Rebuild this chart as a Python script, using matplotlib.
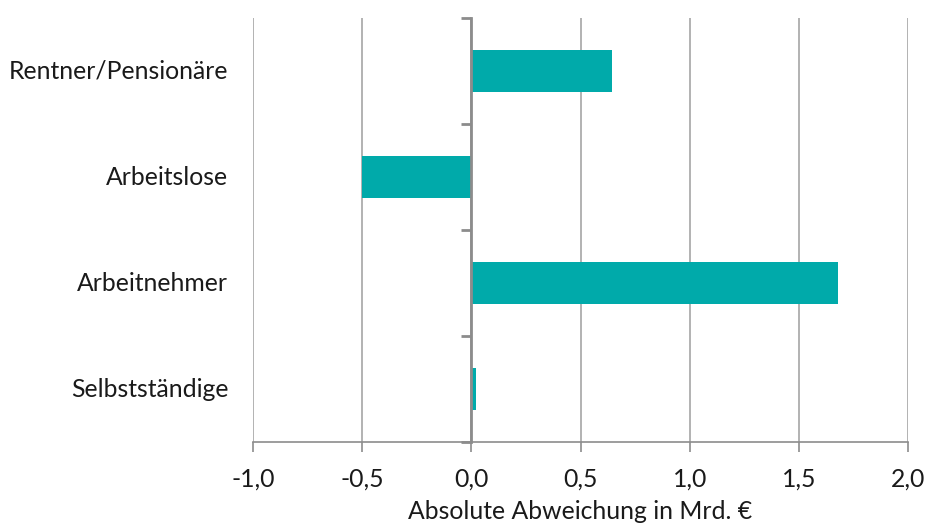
import numpy as np
import matplotlib.pyplot as plt

# Gruppen von unten nach oben, Werte in Mrd. Euro
gruppen = ['Selbstständige', 'Arbeitnehmer', 'Arbeitslose', 'Rentner/Pensionäre']
abweichung = [0.022, 1.68, -0.50, 0.645]
xticks = [-1.0, -0.5, 0.0, 0.5, 1.0, 1.5, 2.0]

plt.rcParams['font.family'] = ['Lato', 'DejaVu Sans']
fs = 17.8

fig = plt.figure(figsize=(9.27, 5.27), dpi=100)
ax = fig.add_axes([0.273, 0.161, 0.7065, 0.805])

pos = np.arange(len(gruppen))
ax.barh(pos, abweichung, height=0.4, color='#00AAAA', zorder=3)

ax.set_xlim(-1.0, 2.0)
ax.set_ylim(-0.5, len(gruppen) - 0.5)
ax.set_xticks(xticks)
ax.set_xticklabels([f'{v:.1f}'.replace('.', ',') for v in xticks], fontsize=fs,
                   color='#1A1A1A')
ax.grid(axis='x', color='#A6A6A6', linewidth=1.2, zorder=0)
ax.tick_params(axis='x', length=7, width=1.2, color='#8C8C8C', pad=11)
ax.set_xlabel('Absolute Abweichung in Mrd. €', fontsize=fs, labelpad=7,
              color='#1A1A1A')

# senkrechte Achse liegt bei 0, Teilstriche an den Kategoriegrenzen
ax.spines['left'].set_position(('data', 0))
ax.spines['left'].set_color('#8C8C8C')
ax.spines['left'].set_linewidth(2)
ax.spines['left'].set_zorder(4)
ax.spines['bottom'].set_color('#8C8C8C')
ax.spines['bottom'].set_linewidth(1.2)
ax.spines['top'].set_visible(False)
ax.spines['right'].set_visible(False)
ax.set_yticks(np.arange(len(gruppen) + 1) - 0.5)
ax.set_yticklabels([])
ax.tick_params(axis='y', length=7, width=2, color='#8C8C8C')

for p, name in zip(pos, gruppen):
    ax.text(-0.038, p, name, transform=ax.get_yaxis_transform(),
            ha='right', va='center', fontsize=fs, color='#1A1A1A')

fig.savefig('out.png', dpi=100)
